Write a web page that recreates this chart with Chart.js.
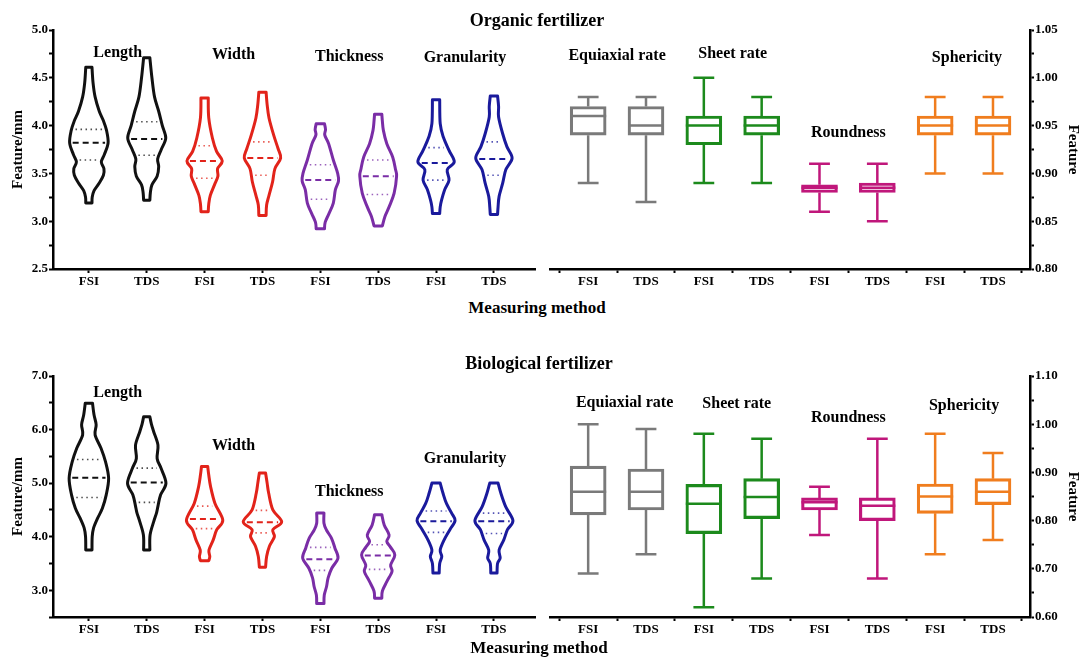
<!DOCTYPE html>
<html>
<head>
<meta charset="utf-8">
<script src="https://cdn.jsdelivr.net/npm/chart.js@4.4.1/dist/chart.umd.min.js"></script>
<style>
  body { margin: 0; background: #fff; }
  #fig { position: relative; width: 1083px; height: 657px; overflow: hidden;
         font-family: 'Liberation Serif', 'Times New Roman', serif; font-weight: bold; color: #000; }
  #fig canvas { position: absolute; }
  .txt { position: absolute; transform: translate(-50%, -50%); white-space: nowrap; }
</style>
</head>
<body>
<div id="fig">
  <canvas id="orgViolin" width="541" height="292" style="left:0;top:0"></canvas>
  <canvas id="orgBox" width="542" height="292" style="left:541px;top:0"></canvas>
  <canvas id="bioViolin" width="541" height="300" style="left:0;top:340px"></canvas>
  <canvas id="bioBox" width="542" height="300" style="left:541px;top:340px"></canvas>
  <div class="txt" style="left:537px;top:20px;font-size:18px">Organic fertilizer</div>
  <div class="txt" style="left:537px;top:308px;font-size:17px">Measuring method</div>
  <div class="txt" style="left:539px;top:363px;font-size:18px">Biological fertilizer</div>
  <div class="txt" style="left:539px;top:648px;font-size:17px">Measuring method</div>
</div>
<script>
// categories
const methods = ['FSI', 'TDS'];
const violinGroups = ['Length', 'Width', 'Thickness', 'Granularity'];
const boxGroups = ['Equiaxial rate', 'Sheet rate', 'Roundness', 'Sphericity'];
const violinColors = ['#111111', '#e2231a', '#7a2da6', '#1a1a9c'];
const boxColors = ['#7a7a7a', '#1c8a1c', '#c0177b', '#f07d1e'];

// Organic fertilizer - violin outlines as [value (mm), density], bottom to top
const orgLengthFSI = [[3.19,3],[3.25,3.2],[3.32,5],[3.40,10],[3.48,14],[3.55,14.5],[3.62,12],[3.70,15],[3.82,18.5],[3.95,17],[4.05,14],[4.15,10],[4.30,6],[4.45,4],[4.61,3]];
const orgLengthTDS = [[3.22,3],[3.30,3.5],[3.38,5],[3.47,10],[3.57,11.5],[3.65,10.5],[3.75,14],[3.87,18.3],[4.00,15],[4.15,11.5],[4.30,7.5],[4.50,5],[4.71,3]];
const orgWidthFSI = [[3.10,3.5],[3.18,4],[3.27,5.5],[3.38,9.5],[3.47,12.8],[3.55,12.5],[3.63,17],[3.73,11.5],[3.87,7.5],[4.08,4],[4.29,3.5]];
const orgWidthTDS = [[3.06,3.5],[3.17,4],[3.27,6.3],[3.41,9.7],[3.55,12],[3.66,17.5],[3.76,15],[3.90,10.8],[4.08,6.3],[4.22,4.5],[4.35,3.5]];
const orgThickFSI = [[2.92,4],[2.99,4.7],[3.08,8.3],[3.19,12.5],[3.33,14.5],[3.42,17.5],[3.50,16.7],[3.64,12.5],[3.81,8],[3.90,4.3],[3.96,5],[4.02,4]];
const orgThickTDS = [[2.95,4],[3.05,6.5],[3.15,10.5],[3.29,15.3],[3.47,17.7],[3.54,16.7],[3.67,14],[3.81,8.3],[3.95,5],[4.05,4],[4.12,3.5]];
const orgGranFSI = [[3.08,3.5],[3.15,4],[3.22,5.3],[3.33,8.3],[3.43,12.5],[3.54,10.8],[3.62,17.5],[3.74,12.5],[3.88,7],[4.02,4],[4.27,3.5]];
const orgGranTDS = [[3.07,3.5],[3.15,4],[3.26,5],[3.40,8.5],[3.54,11.5],[3.66,17.5],[3.78,12.5],[3.92,8.3],[4.09,4.5],[4.20,4.5],[4.31,3.5]];
const orgViolinMedian = [3.82, 3.86, 3.63, 3.66, 3.43, 3.47, 3.61, 3.65];
const orgViolinQ1 = [3.64, 3.69, 3.45, 3.48, 3.23, 3.28, 3.43, 3.48];
const orgViolinQ3 = [3.96, 4.04, 3.79, 3.83, 3.59, 3.64, 3.77, 3.83];

// Organic fertilizer - box plots (shape features)
const orgBoxMin = [0.89, 0.87, 0.89, 0.89, 0.86, 0.85, 0.90, 0.90];
const orgBoxQ1 = [0.94, 0.94, 0.93, 0.94, 0.880, 0.880, 0.94, 0.94];
const orgBoxMedian = [0.96, 0.95, 0.95, 0.95, 0.885, 0.885, 0.95, 0.95];
const orgBoxQ3 = [0.97, 0.97, 0.96, 0.96, 0.888, 0.890, 0.96, 0.96];
const orgBoxMax = [0.98, 0.98, 1.00, 0.98, 0.91, 0.91, 0.98, 0.98];

// Biological fertilizer - violin outlines
const bioLengthFSI = [[3.75,3],[4.00,3.2],[4.16,4.5],[4.34,8.3],[4.53,13],[4.78,16.7],[5.09,19],[5.40,16],[5.65,11.7],[5.90,6],[6.09,7],[6.27,5],[6.49,3.5]];
const bioLengthTDS = [[3.75,3],[4.03,3.2],[4.28,6.7],[4.45,9.5],[4.59,11],[4.78,13.3],[5.00,18.5],[5.28,13.7],[5.46,10],[5.71,10.8],[5.96,6.7],[6.10,4.5],[6.24,3]];
const bioWidthFSI = [[3.55,4],[3.63,5],[3.75,4.2],[3.94,8.3],[4.13,11.7],[4.31,17.5],[4.62,10],[4.93,5.8],[5.15,4],[5.31,3]];
const bioWidthTDS = [[3.43,3],[3.63,4],[3.82,6.7],[4.00,11.5],[4.13,10],[4.28,18.5],[4.50,10],[4.81,6],[5.00,4.5],[5.19,3]];
const bioThickFSI = [[2.75,3.5],[2.91,3.8],[3.07,6],[3.23,7.5],[3.41,11],[3.60,17],[3.79,14],[3.97,10.8],[4.12,6],[4.25,3.5],[4.44,3.5]];
const bioThickTDS = [[2.85,3.5],[2.98,4],[3.16,8.3],[3.35,13.3],[3.47,12],[3.66,16],[3.80,12],[3.91,8.3],[4.03,10.5],[4.22,5.8],[4.41,3.5]];
const bioGranFSI = [[3.32,3],[3.50,3.5],[3.63,5.5],[3.75,4],[3.94,7.8],[4.13,13.3],[4.30,18.3],[4.44,15],[4.62,10],[4.81,6.7],[5.00,4]];
const bioGranTDS = [[3.32,3],[3.50,3.5],[3.60,6],[3.75,5],[3.94,9.5],[4.13,13],[4.30,18.3],[4.56,11.3],[4.81,6.7],[5.00,4]];
const bioViolinMedian = [5.10, 5.01, 4.33, 4.27, 3.58, 3.65, 4.29, 4.29];
const bioViolinQ1 = [4.73, 4.64, 4.15, 4.07, 3.37, 3.39, 4.08, 4.06];
const bioViolinQ3 = [5.44, 5.28, 4.57, 4.49, 3.80, 3.85, 4.48, 4.44];

// Biological fertilizer - box plots
const bioBoxMin = [0.69, 0.73, 0.62, 0.68, 0.77, 0.68, 0.73, 0.76];
const bioBoxQ1 = [0.812, 0.822, 0.773, 0.804, 0.822, 0.800, 0.815, 0.833];
const bioBoxMedian = [0.860, 0.860, 0.835, 0.849, 0.838, 0.831, 0.850, 0.860];
const bioBoxQ3 = [0.913, 0.907, 0.875, 0.887, 0.847, 0.847, 0.876, 0.887];
const bioBoxMax = [1.00, 0.99, 0.98, 0.97, 0.87, 0.97, 0.98, 0.94];

const DENSITY_PER_STEP = 55.7; // density units that equal one category step
const FONT = "'Liberation Serif', 'Times New Roman', serif";

Chart.defaults.font.family = FONT;
Chart.defaults.font.weight = 'bold';
Chart.defaults.color = '#000';

const isMultiple = (v, s) => Math.abs(v / s - Math.round(v / s)) < 1e-6;

function xAxis(min, max) {
  return {
    type: 'linear', min, max, offset: false,
    afterFit: s => { s.height = 23; },
    ticks: { stepSize: 1, includeBounds: false, autoSkip: false, maxRotation: 0, padding: 1,
             font: { size: 13 }, callback: v => methods[Math.round(v) % 2] },
    grid: { drawOnChartArea: false, tickLength: 4, tickWidth: 2, tickColor: '#000' },
    border: { width: 2.5, color: '#000' }
  };
}

function yAxis(position, min, max, step, labelStep, digits, title, titlePad) {
  return {
    type: 'linear', position, min, max, beginAtZero: false,
    afterFit: s => { s.width = 53; },
    ticks: { stepSize: step, autoSkip: false, padding: 1, font: { size: 13 },
             callback: v => isMultiple(v, labelStep) ? v.toFixed(digits) : '' },
    grid: { drawOnChartArea: false, tickLength: 4, tickWidth: 2, tickColor: '#000' },
    border: { width: 2.5, color: '#000' },
    title: { display: true, text: title, font: { size: 15 }, padding: { top: titlePad, bottom: 0 } }
  };
}

function traceSmooth(ctx, pts) {
  for (let i = 0; i < pts.length - 1; i++) {
    const p0 = pts[i - 1] || pts[i], p1 = pts[i], p2 = pts[i + 1], p3 = pts[i + 2] || p2;
    ctx.bezierCurveTo(p1.x + (p2.x - p0.x) / 6, p1.y + (p2.y - p0.y) / 6,
                      p2.x - (p3.x - p1.x) / 6, p2.y - (p3.y - p1.y) / 6, p2.x, p2.y);
  }
}

function densityAt(profile, v) {
  for (let i = 0; i < profile.length - 1; i++) {
    const [a, da] = profile[i], [b, db] = profile[i + 1];
    if (v >= a && v <= b) return da + (db - da) * (v - a) / (b - a);
  }
  return 0;
}

function drawGroupLabels(chart, names, pos) {
  const { ctx } = chart, xs = chart.scales.x, ys = chart.scales.y;
  ctx.save();
  ctx.font = 'bold 16px ' + FONT;
  ctx.fillStyle = '#000';
  ctx.textAlign = 'center';
  ctx.textBaseline = 'middle';
  names.forEach((n, i) => ctx.fillText(n, xs.getPixelForValue(pos.x[i]), ys.getPixelForValue(pos.y[i])));
  ctx.restore();
}

function violinLayer(profiles, med, q1, q3, labelPos) {
  return {
    id: 'violinLayer',
    afterDatasetsDraw(chart) {
      const { ctx } = chart, xs = chart.scales.x, ys = chart.scales.y;
      const k = (xs.getPixelForValue(1) - xs.getPixelForValue(0)) / DENSITY_PER_STEP;
      ctx.save();
      profiles.forEach((prof, i) => {
        const color = violinColors[i >> 1];
        const cx = xs.getPixelForValue(i);
        const R = prof.map(([v, d]) => ({ x: cx + d * k, y: ys.getPixelForValue(v) }));
        const L = prof.slice().reverse().map(([v, d]) => ({ x: cx - d * k, y: ys.getPixelForValue(v) }));
        ctx.beginPath();
        ctx.moveTo(R[0].x, R[0].y);
        traceSmooth(ctx, R);
        ctx.lineTo(L[0].x, L[0].y);
        traceSmooth(ctx, L);
        ctx.closePath();
        ctx.strokeStyle = color;
        ctx.lineWidth = 3;
        ctx.lineJoin = 'round';
        ctx.setLineDash([]);
        ctx.stroke();

        const seg = (v, dash, lw, alpha, inset) => {
          const h = densityAt(prof, v) * k - inset;
          const y = ys.getPixelForValue(v);
          ctx.beginPath();
          ctx.moveTo(cx - h, y);
          ctx.lineTo(cx + h, y);
          ctx.setLineDash(dash);
          ctx.lineWidth = lw;
          ctx.globalAlpha = alpha;
          ctx.stroke();
          ctx.globalAlpha = 1;
        };
        seg(med[i], [6, 4], 2, 1, 3);
        seg(q1[i], [1.5, 3.5], 1.6, 0.75, 4);
        seg(q3[i], [1.5, 3.5], 1.6, 0.75, 4);
      });
      ctx.restore();
      drawGroupLabels(chart, violinGroups, labelPos);
    }
  };
}

function boxLayer(mins, meds, maxs, q1, q3, labelPos) {
  return {
    id: 'boxLayer',
    afterDatasetsDraw(chart) {
      const { ctx } = chart, xs = chart.scales.x, ys = chart.scales.y;
      const cap = 0.18 * (xs.getPixelForValue(1) - xs.getPixelForValue(0));
      const bars = chart.getDatasetMeta(0).data;
      ctx.save();
      ctx.lineWidth = 2.5;
      ctx.lineCap = 'butt';
      bars.forEach((bar, i) => {
        const cx = bar.x, half = bar.width / 2;
        ctx.strokeStyle = boxColors[i >> 1];
        const yMin = ys.getPixelForValue(mins[i]), yMax = ys.getPixelForValue(maxs[i]);
        const yQ1 = ys.getPixelForValue(q1[i]), yQ3 = ys.getPixelForValue(q3[i]);
        const yMed = ys.getPixelForValue(meds[i]);
        ctx.beginPath();
        ctx.moveTo(cx, yQ3); ctx.lineTo(cx, yMax);
        ctx.moveTo(cx - cap, yMax); ctx.lineTo(cx + cap, yMax);
        ctx.moveTo(cx, yQ1); ctx.lineTo(cx, yMin);
        ctx.moveTo(cx - cap, yMin); ctx.lineTo(cx + cap, yMin);
        ctx.moveTo(cx - half, yMed); ctx.lineTo(cx + half, yMed);
        ctx.stroke();
      });
      ctx.restore();
      drawGroupLabels(chart, boxGroups, labelPos);
    }
  };
}

function makeViolinChart(id, profiles, med, q1, q3, yCfg, padTop, labelPos) {
  return new Chart(document.getElementById(id), {
    type: 'scatter',
    data: { datasets: [{ data: [], pointRadius: 0 }] },
    options: {
      responsive: false, animation: false, devicePixelRatio: 1,
      layout: { padding: { top: padTop, right: 6, left: 0, bottom: 0 } },
      plugins: { legend: { display: false }, tooltip: { enabled: false } },
      scales: { x: xAxis(-0.62, 7.71), y: yCfg }
    },
    plugins: [violinLayer(profiles, med, q1, q3, labelPos)]
  });
}

function makeBoxChart(id, mins, q1, meds, q3, maxs, yCfg, padTop, labelPos) {
  return new Chart(document.getElementById(id), {
    type: 'bar',
    data: {
      datasets: [{
        data: q1.map((v, i) => ({ x: i, y: [v, q3[i]] })),
        backgroundColor: 'rgba(255,255,255,0)',
        borderColor: q1.map((v, i) => boxColors[i >> 1]),
        borderWidth: 2.5,
        borderSkipped: false,
        barThickness: 36
      }]
    },
    options: {
      responsive: false, animation: false, devicePixelRatio: 1,
      layout: { padding: { top: padTop, right: 0, left: 9, bottom: 0 } },
      plugins: { legend: { display: false }, tooltip: { enabled: false } },
      scales: { x: xAxis(-0.66, 7.64), y: yCfg }
    },
    plugins: [boxLayer(mins, meds, maxs, q1, q3, labelPos)]
  });
}

makeViolinChart('orgViolin',
  [orgLengthFSI, orgLengthTDS, orgWidthFSI, orgWidthTDS, orgThickFSI, orgThickTDS, orgGranFSI, orgGranTDS],
  orgViolinMedian, orgViolinQ1, orgViolinQ3,
  yAxis('left', 2.5, 5.0, 0.25, 0.5, 1, 'Feature/mm', 9), 30,
  { x: [0.5, 2.5, 4.5, 6.5], y: [4.76, 4.74, 4.72, 4.71] });

makeBoxChart('orgBox', orgBoxMin, orgBoxQ1, orgBoxMedian, orgBoxQ3, orgBoxMax,
  yAxis('right', 0.80, 1.05, 0.025, 0.05, 2, 'Feature', 1), 30,
  { x: [0.5, 2.5, 4.5, 6.55], y: [1.023, 1.025, 0.942, 1.021] });

makeViolinChart('bioViolin',
  [bioLengthFSI, bioLengthTDS, bioWidthFSI, bioWidthTDS, bioThickFSI, bioThickTDS, bioGranFSI, bioGranTDS],
  bioViolinMedian, bioViolinQ1, bioViolinQ3,
  yAxis('left', 2.5, 7.0, 0.5, 1, 1, 'Feature/mm', 9), 36,
  { x: [0.5, 2.5, 4.5, 6.5], y: [6.68, 5.69, 4.84, 5.45] });

makeBoxChart('bioBox', bioBoxMin, bioBoxQ1, bioBoxMedian, bioBoxQ3, bioBoxMax,
  yAxis('right', 0.60, 1.10, 0.05, 0.1, 2, 'Feature', 1), 36,
  { x: [0.63, 2.57, 4.5, 6.5], y: [1.044, 1.042, 1.013, 1.038] });
</script>
</body>
</html>
